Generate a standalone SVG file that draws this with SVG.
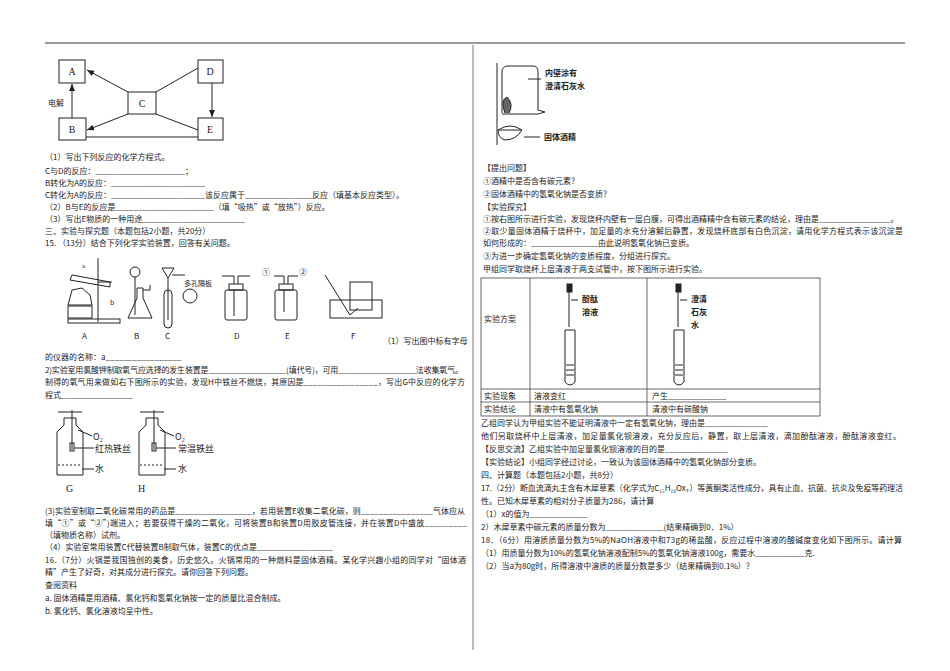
<svg xmlns="http://www.w3.org/2000/svg" width="950" height="671" viewBox="0 0 950 671">
<style>
text{font-family:"Noto Sans CJK SC","Liberation Serif",serif;font-size:8px;fill:#222}
.b{fill:none;stroke:#222;stroke-width:1}
.t{fill:#fff;stroke:#222;stroke-width:1}
.lb{font-family:"Liberation Serif",serif;font-size:10px}
.bd{font-weight:bold}
</style>
<defs><marker id="ar" markerWidth="8" markerHeight="8" refX="7" refY="4" orient="auto"><path d="M0,1 L7,4 L0,7z" fill="#222"/></marker></defs>
<rect width="950" height="671" fill="#fff"/>
<line x1="45" y1="43" x2="905" y2="43" stroke="#333"/>
<line x1="473" y1="45" x2="473" y2="650" stroke="#555" stroke-width="0.8"/>

<g id="nodes">
<g id="A"><rect class="t" x="59" y="60" width="26" height="23"/><text class="lb" x="72" y="75" text-anchor="middle">A</text></g>
<g id="D"><rect class="t" x="198" y="60" width="25" height="23"/><text class="lb" x="210" y="75" text-anchor="middle">D</text></g>
<g id="C"><rect class="t" x="128" y="92" width="28" height="22"/><text class="lb" x="142" y="107" text-anchor="middle">C</text></g>
<g id="B"><rect class="t" x="59" y="118" width="27" height="22"/><text class="lb" x="72" y="133" text-anchor="middle">B</text></g>
<g id="E"><rect class="t" x="198" y="118" width="25" height="22"/><text class="lb" x="210" y="133" text-anchor="middle">E</text></g>
</g>
<g id="connectors" stroke="#222" fill="none">
<line x1="128" y1="92" x2="87" y2="70" marker-end="url(#ar)"/>
<line x1="128" y1="114" x2="87" y2="130" marker-end="url(#ar)"/>
<line x1="156" y1="92" x2="198" y2="68"/>
<line x1="156" y1="114" x2="198" y2="130"/>
<line x1="212" y1="83" x2="212" y2="117" marker-end="url(#ar)"/>
<line x1="72" y1="118" x2="72" y2="84" marker-end="url(#ar)"/>
<line x1="86" y1="137" x2="198" y2="137"/>
</g>
<text x="48" y="106">电解</text>

<text x="45" y="160">（1）写出下列反应的化学方程式。</text>
<text x="45" y="174">C与D的反应：____________________；</text>
<text x="45" y="186">B转化为A的反应：_____________________</text>
<text x="45" y="198">C转化为A的反应：_____________________该反应属于_______________反应（填基本反应类型）。</text>
<text x="45" y="210">（2）B与E的反应是______________________（填“吸热”或“放热”）反应。</text>
<text x="45" y="222">（3）写出E物质的一种用途_______________________</text>
<text x="45" y="234">三、实验与探究题（本题包括2小题，共20分）</text>
<text x="45" y="246">15. （13分）结合下列化学实验装置，回答有关问题。</text>

<g id="apparatus" class="b">
<line x1="98" y1="258" x2="98" y2="322"/><rect x="68" y="319" width="52" height="4"/>
<path d="M70,280 L110,287 L110,282 L72,275z"/><line x1="98" y1="282" x2="112" y2="282"/>
<path d="M68,305 L72,290 L82,288 L90,295 L92,305z"/><rect x="68" y="306" width="24" height="12"/>
<path d="M128,318 L152,318 L143,298 L143,288 L137,288 L137,298z"/><circle cx="135" cy="272" r="5"/><line x1="135" y1="277" x2="135" y2="315"/><path d="M143,290 L150,290 L150,285"/>
<rect x="164" y="290" width="8" height="38" rx="4"/><path d="M162,268 L174,268 L168,278z"/><line x1="168" y1="278" x2="168" y2="320"/><path d="M172,275 L185,275"/><circle cx="190" cy="296" r="7"/>
<rect x="225" y="290" width="22" height="30" rx="2"/><rect x="229" y="284" width="14" height="6"/><path d="M234,284 L234,276 L222,276 M238,284 L238,276 L250,276 M234,290 L234,316"/>
<rect x="275" y="290" width="22" height="30" rx="2"/><rect x="279" y="284" width="14" height="6"/><path d="M284,284 L284,276 L274,276 M288,284 L288,276 L298,276 M284,290 L284,312"/>
<path d="M325,275 L350,315 L358,308"/><rect x="330" y="300" width="52" height="18"/><rect x="350" y="282" width="22" height="28"/>
</g>
<text x="82" y="268" class="lb" style="font-size:7px">a</text><text x="110" y="305" style="font-size:7px">b</text>
<text x="184" y="286" style="font-size:7px">多孔隔板</text>
<text x="262" y="275" style="font-size:8px">①</text><text x="299" y="275" style="font-size:8px">②</text>
<g class="lb"><text x="82" y="339">A</text><text x="134" y="339">B</text><text x="165" y="339">C</text><text x="234" y="339">D</text><text x="285" y="339">E</text><text x="351" y="339">F</text></g>
<text x="383" y="344">（1）写出图中标有字母</text>

<text x="45" y="360">的仪器的名称：a_________________</text>
<text x="45" y="373" textLength="418">2)实验室用氯酸钾制取氧气应选择的发生装置是__________________(填代号)，可用__________________法收集氧气。</text>
<text x="45" y="385" textLength="420">制得的氧气用来做如右下图所示的实验，发现H中铁丝不燃烧，其原因是________________，写出G中反应的化学方</text>
<text x="45" y="398">程式________________</text>

<g id="GH" class="b">
<path d="M57,475 L57,432 L64,425 L64,418 L76,418 L76,425 L83,432 L83,475z"/><line x1="58" y1="412" x2="82" y2="412"/><line x1="72" y1="410" x2="72" y2="450"/><rect x="70" y="443" width="4" height="8"/><line x1="58" y1="465" x2="82" y2="465" stroke-dasharray="2,2"/><line x1="78" y1="430" x2="92" y2="436"/><line x1="74" y1="448" x2="94" y2="448"/><line x1="82" y1="469" x2="94" y2="469"/>
<path d="M139,475 L139,432 L146,425 L146,418 L158,418 L158,425 L165,432 L165,475z"/><line x1="140" y1="412" x2="164" y2="412"/><line x1="154" y1="410" x2="154" y2="450"/><rect x="152" y="443" width="4" height="8"/><line x1="140" y1="465" x2="164" y2="465" stroke-dasharray="2,2"/><line x1="160" y1="430" x2="174" y2="436"/><line x1="156" y1="448" x2="176" y2="448"/><line x1="164" y1="469" x2="176" y2="469"/>
</g>
<text x="93" y="440" style="font-size:9px">O₂</text><text x="95" y="452" style="font-size:9px">红热铁丝</text><text x="95" y="472" style="font-size:9px">水</text>
<text x="175" y="440" style="font-size:9px">O₂</text><text x="178" y="452" style="font-size:9px">常温铁丝</text><text x="178" y="472" style="font-size:9px">水</text>
<text x="66" y="492" class="lb">G</text><text x="138" y="492" class="lb">H</text>

<text x="45" y="514" textLength="420">(3)实验室制取二氧化碳常用的药品是_________________，若用装置E收集二氧化碳，则________________气体应从</text>
<text x="45" y="526" textLength="422">填“①”或“②”)端进入；若要获得干燥的二氧化，可将装置B和装置D用胶皮管连接，并在装置D中盛放_________</text>
<text x="45" y="538">（填物质名称）试剂。</text>
<text x="45" y="550">（4）实验室常用装置C代替装置B制取气体，装置C的优点是_________________</text>
<text x="45" y="563" textLength="421">16.（7分）火锅是我国独创的美食，历史悠久。火锅常用的一种燃料是固体酒精。某化学兴趣小组的同学对“固体酒</text>
<text x="45" y="575">精”产生了好奇，对其成分进行探究。请你回答下列问题。</text>
<text x="45" y="588">查阅资料</text>
<text x="45" y="601">a. 固体酒精是用酒精、氯化钙和氢氧化钠按一定的质量比混合制成。</text>
<text x="45" y="614">b. 氯化钙、氯化溶液均呈中性。</text>

<g id="burner" class="b">
<line x1="497" y1="63" x2="497" y2="145"/><path d="M502,113 L502,72 Q502,66 508,66 L533,66 Q538,66 538,72 L538,110 L545,112 L538,114 L502,114"/><line x1="528" y1="79" x2="541" y2="79"/>
<path d="M505,113 Q500,100 507,97 Q514,104 509,113" fill="#666"/><path d="M498,130 Q510,122 522,130 Q516,140 505,140 Q498,138 498,130z"/><line x1="498" y1="130" x2="522" y2="130"/><line x1="524" y1="137" x2="540" y2="137"/>
</g>
<text x="545" y="76" class="bd">内壁涂有</text><text x="545" y="89" class="bd">澄清石灰水</text><text x="544" y="140" class="bd">固体酒精</text>

<text x="483" y="171">【提出问题】</text>
<text x="483" y="184">①酒精中是否含有碳元素？</text>
<text x="483" y="197">②固体酒精中的氢氧化钠是否变质？</text>
<text x="483" y="210">【实验探究】</text>
<text x="483" y="222">①按右图所示进行实验，发现烧杯内壁有一层白膜，可得出酒精精中含有碳元素的结论，理由是________________。</text>
<text x="483" y="234" textLength="420">②取少量固体酒精于烧杯中，加足量的水充分溶解后静置，发现烧杯底部有白色沉淀，请用化学方程式表示该沉淀是</text>
<text x="483" y="246">如何形成的：_______________由此说明氢氧化钠已变质。</text>
<text x="483" y="259">③为进一步确定氢氧化钠的变质程度，分组进行探究。</text>
<text x="483" y="272">甲组同学取烧杯上层清液于两支试管中，按下图所示进行实验。</text>

<g id="table" fill="none" stroke="#444" stroke-width="0.8">
<rect x="481" y="278" width="339" height="138"/>
<line x1="530" y1="278" x2="530" y2="416"/><line x1="647" y1="278" x2="647" y2="416"/>
<line x1="481" y1="389" x2="820" y2="389"/><line x1="481" y1="402" x2="820" y2="402"/>
</g>
<g id="tubes" class="b">
<rect x="567" y="284" width="5" height="8" fill="#222"/><line x1="569" y1="292" x2="569" y2="327"/><line x1="571" y1="300" x2="578" y2="300"/>
<path d="M565,330 L575,330 L575,382 Q570,388 565,382z"/><path d="M566,365 L574,365 M566,370 L574,370 M566,375 L574,375"/>
<rect x="676" y="284" width="5" height="8" fill="#222"/><line x1="678" y1="292" x2="678" y2="327"/><line x1="680" y1="300" x2="687" y2="300"/>
<path d="M674,330 L684,330 L684,382 Q679,388 674,382z"/><path d="M675,365 L683,365 M675,370 L683,370 M675,375 L683,375"/>
</g>
<text x="582" y="302" class="bd">酚酞</text><text x="582" y="315" class="bd">溶液</text>
<text x="691" y="302" class="bd">澄清</text><text x="691" y="315" class="bd">石灰</text><text x="691" y="328" class="bd">水</text>
<text x="484" y="322">实验方案</text>
<text x="484" y="399">实验现象</text><text x="534" y="399">溶液变红</text><text x="652" y="399">产生_____________</text>
<text x="484" y="412">实验结论</text><text x="534" y="412">清液中有氢氧化钠</text><text x="652" y="412">清液中有碳酸钠</text>

<text x="481" y="426">乙组同学认为甲组实验不能证明清液中一定有氢氧化钠，理由是______________</text>
<text x="481" y="439" textLength="420">他们另取烧杯中上层清液，加足量氯化钡溶液，充分反应后，静置，取上层清液，滴加酚酞溶液，酚酞溶液变红。</text>
<text x="481" y="452">【反思交流】乙组实验中加足量氯化钡溶液的目的是______________</text>
<text x="481" y="465">【实验结论】小组同学经过讨论，一致认为该固体酒精中的氢氧化钠部分变质。</text>
<text x="481" y="478">四、计算题（本题包括2小题，共8分）</text>
<text x="481" y="491" textLength="422">17.（2分）断血流滴丸主含有木犀草素（化学式为C₁₅H₁₀Ox，）等黄酮类活性成分，具有止血、抗菌、抗炎及免疫等药理活</text>
<text x="481" y="504">性。已知木犀草素的相对分子质量为286，请计算</text>
<text x="481" y="517">（1）x的值为_____________</text>
<text x="481" y="530">2）木犀草素中碳元素的质量分数为_____________(结果精确到0．1%）</text>
<text x="481" y="543" textLength="421">18．（6分）用溶质质量分数为5%的NaOH溶液中和73g的稀盐酸，反应过程中溶液的酸碱度变化如下图所示。请计算</text>
<text x="481" y="556">（1）用质量分数为10%的氢氧化钠溶液配制5%的氢氧化钠溶液100g，需要水___________克.</text>
<text x="481" y="569">（2）当a为80g时，所得溶液中溶质的质量分数是多少（结果精确到0.1%）？</text>
</svg>
